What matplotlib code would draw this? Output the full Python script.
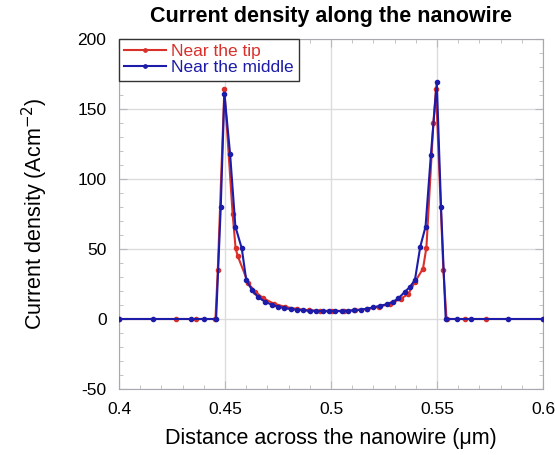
import numpy as np
import matplotlib
matplotlib.use("Agg")
import matplotlib.pyplot as plt
from matplotlib.ticker import MultipleLocator

plt.rcParams['font.family'] = ['Liberation Sans', 'DejaVu Sans']
plt.rcParams['axes.unicode_minus'] = False

# current density near the tip of the nanowire
tip_x = [0.400, 0.4267, 0.4363, 0.4455, 0.4466, 0.4497, 0.4536, 0.4550, 0.4560,
         0.4610, 0.4642, 0.4681, 0.4730, 0.4785, 0.4840, 0.4895, 0.4950, 0.5005,
         0.5060, 0.5115, 0.5170, 0.5225, 0.5280, 0.5330, 0.5365, 0.5396, 0.5434,
         0.5450, 0.5483, 0.5495, 0.5530, 0.5545, 0.5630, 0.5730, 0.600]
tip_j = [0, 0, 0, 0, 35, 164, 75, 50.5, 45,
         25.5, 19.5, 14.8, 11, 8.6, 7.2, 6.3, 5.9, 5.8,
         5.9, 6.3, 7.2, 8.6, 11, 14.5, 18, 26.5, 36,
         51, 140, 164, 35, 0, 0, 0, 0]

# current density near the middle of the nanowire
mid_x = [0.400, 0.4162, 0.4340, 0.4402, 0.4458, 0.4480, 0.4497, 0.4524, 0.4549,
         0.4579, 0.4600, 0.4627, 0.4657, 0.4689, 0.4720, 0.4750, 0.4780, 0.4810,
         0.4840, 0.4870, 0.4900, 0.4930, 0.4960, 0.4990, 0.5020, 0.5050, 0.5080,
         0.5110, 0.5140, 0.5170, 0.5200, 0.5230, 0.5263, 0.5294, 0.5318, 0.5349,
         0.5373, 0.5396, 0.5421, 0.5446, 0.5471, 0.5499, 0.5519, 0.5541, 0.5596,
         0.5660, 0.5834, 0.600]
mid_j = [0, 0, 0, 0, 0, 80, 161, 118, 66,
         50.5, 28, 20.7, 15.5, 12.4, 10.2, 8.8, 7.8, 7.1,
         6.6, 6.2, 5.9, 5.7, 5.6, 5.6, 5.6, 5.7, 5.9,
         6.2, 6.7, 7.4, 8.3, 9.4, 10.5, 12.4, 14.8, 19.5,
         23, 28, 51.6, 66, 117, 169, 80, 0, 0,
         0, 0, 0]

red = '#d9302b'
blue = '#1c1ca8'

fig = plt.figure(figsize=(5.55, 4.55), dpi=100)
ax = fig.add_axes([119 / 555, 1 - 389 / 455, 424 / 555, 350 / 455])

ax.plot(tip_x, tip_j, '-o', color=red, lw=1.5, ms=3.0, label='Near the tip', zorder=3)
ax.plot(mid_x, mid_j, '-o', color=blue, lw=1.5, ms=3.0, label='Near the middle', zorder=4)

ax.set_xlim(0.4, 0.6)
ax.set_ylim(-50, 200)
ax.xaxis.set_minor_locator(MultipleLocator(0.01))
ax.yaxis.set_major_locator(MultipleLocator(50))
ax.yaxis.set_minor_locator(MultipleLocator(10))
ax.set_xticks([0.4, 0.45, 0.5, 0.55, 0.6])
ax.set_xticklabels(['0.4', '0.45', '0.5', '0.55', '0.6'])
ax.grid(True, which='major', color='#dcdcdc', lw=1.0, zorder=0)
ax.tick_params(which='both', direction='in', top=True, right=True,
               color='#b8b8c0', labelsize=12.5, pad=9)
ax.tick_params(which='major', length=6)
ax.tick_params(which='minor', length=3)
for s in ax.spines.values():
    s.set_color('#a8a8b0')

ax.set_title('Current density along the nanowire', fontsize=15.5, fontweight='bold', pad=12)
ax.set_xlabel('Distance across the nanowire (μm)', fontsize=15.5, labelpad=8)
ax.set_ylabel('Current density (Acm$^{-2}$)', fontsize=15.5, labelpad=20)

leg = ax.legend(loc='upper left', bbox_to_anchor=(0, 1), borderaxespad=0,
                fontsize=12.5, fancybox=False, framealpha=1, edgecolor='#333333',
                handlelength=2.4, handletextpad=0.3, borderpad=0.3,
                labelspacing=0.05, markerscale=0.8)
leg.get_frame().set_linewidth(1.0)
for t, c in zip(leg.get_texts(), [red, blue]):
    t.set_color(c)

fig.savefig('out.png', dpi=100)
